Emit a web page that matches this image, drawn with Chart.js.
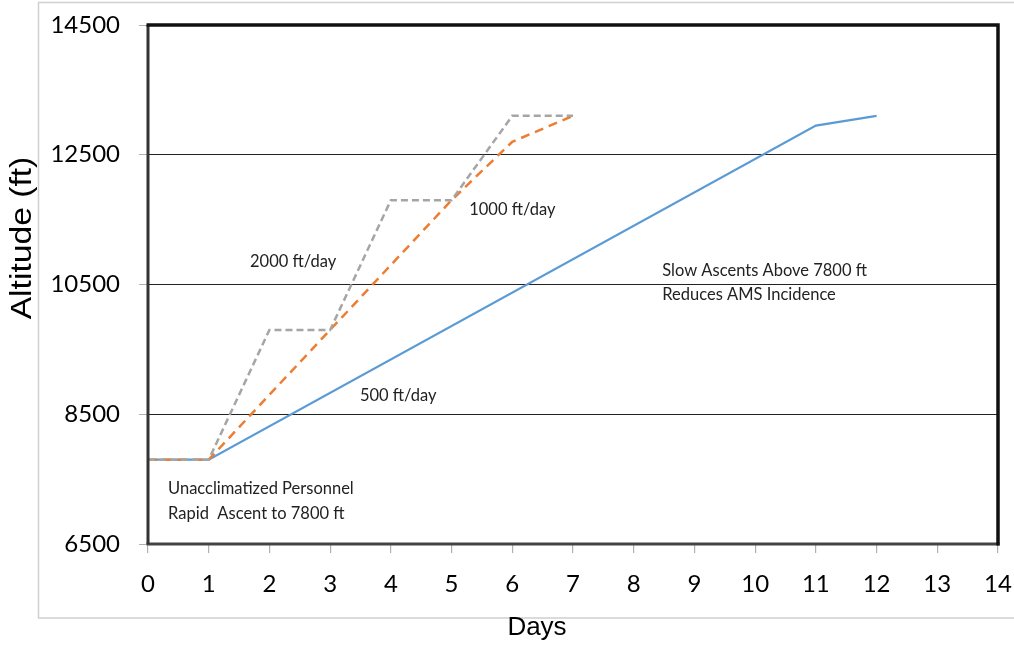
<!DOCTYPE html>
<html>
<head>
<meta charset="utf-8">
<script src="https://cdn.jsdelivr.net/npm/chart.js@4"></script>
<style>
  html, body { margin: 0; padding: 0; background: #fff; }
  #wrap { position: relative; width: 1014px; height: 646px; }
</style>
</head>
<body>
<div id="wrap"><canvas id="c" width="1014" height="646"></canvas></div>
<script>
// ---- data ----
const days = [0, 1, 2, 3, 4, 5, 6, 7];
const rate2000 = [7800, 7800, 9800, 9800, 11800, 11800, 13100, 13100];
const rate1000 = [7800, 7800, 8800, 9800, 10800, 11800, 12700, 13100];
const days500 = [0, 1, 11, 12];
const rate500 = [7800, 7800, 12950, 13100];
const xTicks = [0, 1, 2, 3, 4, 5, 6, 7, 8, 9, 10, 11, 12, 13, 14];
const yTicks = [6500, 8500, 10500, 12500, 14500];

// ---- text notes placed in data coordinates ----
const notes = [
  { text: '2000 ft/day', x: 1.68, y: 10850 },
  { text: '1000 ft/day', x: 5.29, y: 11650 },
  { text: '500 ft/day', x: 3.49, y: 8790 },
  { text: 'Slow Ascents Above 7800 ft', x: 8.47, y: 10715 },
  { text: 'Reduces AMS Incidence', x: 8.47, y: 10346 },
  { text: 'Unacclimatized Personnel', x: 0.33, y: 7346 },
  { text: 'Rapid  Ascent to 7800 ft', x: 0.33, y: 6961 }
];

const toXY = (xs, ys) => xs.map((x, i) => ({ x: x, y: ys[i] }));

const framePlugin = {
  id: 'frame',
  beforeDraw(chart) {
    const ctx = chart.ctx;
    ctx.save();
    ctx.strokeStyle = '#d0d0d0';
    ctx.lineWidth = 1.5;
    ctx.beginPath();
    ctx.moveTo(1020, 2.5);
    ctx.lineTo(38.5, 2.5);
    ctx.lineTo(38.5, 618);
    ctx.lineTo(1020, 618);
    ctx.stroke();
    ctx.restore();
  },
  afterDraw(chart) {
    const ctx = chart.ctx;
    const a = chart.chartArea;
    ctx.save();
    // plot border
    ctx.lineWidth = 3;
    ctx.strokeStyle = '#444';
    ctx.beginPath();
    ctx.moveTo(a.left - 1.5, a.bottom);
    ctx.lineTo(a.right + 1.5, a.bottom);
    ctx.stroke();
    ctx.strokeStyle = '#333';
    ctx.beginPath();
    ctx.moveTo(a.left, a.bottom);
    ctx.lineTo(a.left, a.top);
    ctx.stroke();
    ctx.strokeStyle = '#111';
    ctx.lineWidth = 3.5;
    ctx.beginPath();
    ctx.moveTo(a.left - 1.5, a.top);
    ctx.lineTo(a.right, a.top);
    ctx.lineTo(a.right, a.bottom + 1.5);
    ctx.stroke();

    // notes
    const xs = chart.scales.x, ys = chart.scales.y;
    ctx.fillStyle = '#222';
    ctx.font = '16.5px Lato';
    ctx.textAlign = 'left';
    ctx.textBaseline = 'middle';
    notes.forEach(n => {
      ctx.fillText(n.text, xs.getPixelForValue(n.x), ys.getPixelForValue(n.y));
    });

    // axis titles
    ctx.fillStyle = '#000';
    ctx.font = '26px "Liberation Sans", Arial';
    ctx.textAlign = 'center';
    ctx.fillText('Days', 537, 628);
    ctx.save();
    ctx.translate(23, 238);
    ctx.rotate(-Math.PI / 2);
    ctx.scale(1.16, 1);
    ctx.font = '29px "Liberation Sans", Arial';
    ctx.fillText('Altitude (ft)', 0, 0);
    ctx.restore();
    ctx.restore();
  }
};

new Chart(document.getElementById('c'), {
  type: 'line',
  data: {
    datasets: [
      {
        label: '2000 ft/day',
        data: toXY(days, rate2000),
        borderColor: '#A5A5A5',
        borderWidth: 2.5,
        borderDash: [7, 4],
        pointRadius: 0,
        tension: 0,
        fill: false
      },
      {
        label: '1000 ft/day',
        data: toXY(days, rate1000),
        borderColor: '#ED7D31',
        borderWidth: 2.5,
        borderDash: [9, 6],
        pointRadius: 0,
        tension: 0,
        fill: false
      },
      {
        label: '500 ft/day',
        data: toXY(days500, rate500),
        borderColor: '#5B9BD5',
        borderWidth: 2.3,
        pointRadius: 0,
        tension: 0,
        fill: false
      }
    ]
  },
  options: {
    responsive: false,
    animation: false,
    devicePixelRatio: 1,
    layout: { padding: { left: 0, top: 25, right: 16, bottom: 0 } },
    plugins: { legend: { display: false }, tooltip: { enabled: false } },
    scales: {
      x: {
        type: 'linear',
        min: 0, max: 14,
        afterBuildTicks(s) { s.ticks = xTicks.map(v => ({ value: v })); },
        afterFit(s) { s.height = 102; s.paddingLeft = 0; s.paddingRight = 0; },
        border: { display: false },
        grid: { drawOnChartArea: false, drawTicks: true, tickLength: 9, tickColor: '#b0b0b0', lineWidth: 1.2 },
        ticks: {
          color: '#000',
          font: { family: 'Lato', size: 24 },
          padding: 17,
          maxRotation: 0,
          autoSkip: false,
          callback: v => String(v)
        }
      },
      y: {
        type: 'linear',
        min: 6500, max: 14500,
        afterBuildTicks(s) { s.ticks = yTicks.map(v => ({ value: v })); },
        afterFit(s) { s.width = 148; s.paddingTop = 0; s.paddingBottom = 0; },
        border: { display: false },
        grid: { color: '#222', lineWidth: 1, drawTicks: true, tickLength: 9, tickColor: '#b0b0b0' },
        ticks: {
          color: '#000',
          font: { family: 'Lato', size: 24 },
          padding: 19,
          autoSkip: false,
          callback: v => String(v)
        }
      }
    }
  },
  plugins: [framePlugin]
});
</script>
</body>
</html>
